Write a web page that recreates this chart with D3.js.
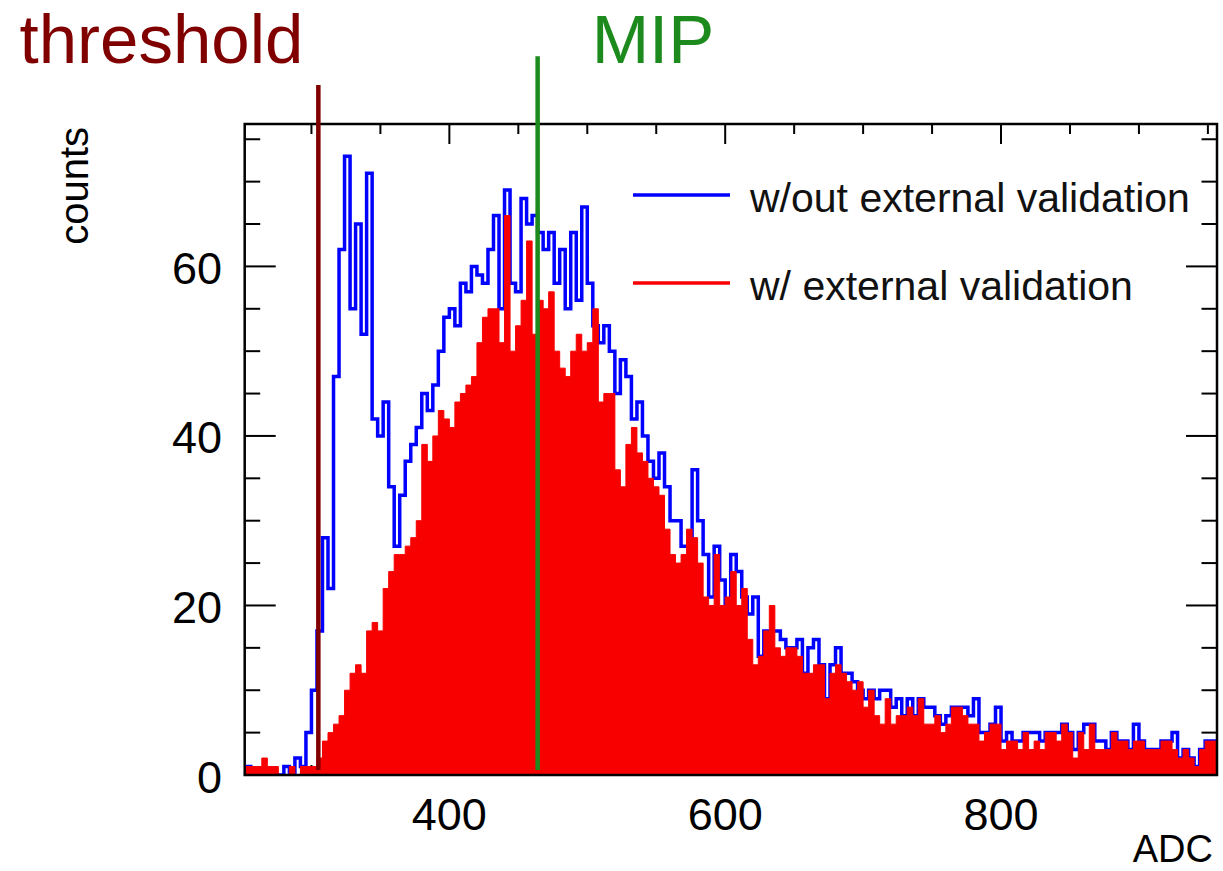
<!DOCTYPE html>
<html>
<head>
<meta charset="utf-8">
<script src="https://cdn.jsdelivr.net/npm/d3@7"></script>
<style>
  html, body { margin: 0; padding: 0; background: #fff; }
  svg { display: block; font-family: "Liberation Sans", Arial, Helvetica, sans-serif; }
</style>
</head>
<body>
<div id="chart"></div>
<script>
// histogram binning (ADC units)
const binStart = 252;
const binWidth = 4;

// counts per bin, bins 252..956
const withoutValidation = [
    1, 0, 0, 0, 0, 0, 0, 1, 0, 2, 1, 5,
    10, 17, 28, 22, 47, 62, 73, 55, 65, 52, 71, 42, 40, 44, 34, 27, 33, 37, 39, 41,
    45, 43, 46, 50, 54, 55, 53, 58, 57, 60, 59, 58, 62, 66, 55, 69, 58, 57, 68, 65,
    66, 64, 62, 64, 58, 62, 55, 64, 56, 67, 58, 53, 51, 53, 50, 45, 49, 47, 42, 44,
    40, 37, 35, 38, 34, 30, 30, 27, 27, 36, 30, 26, 21, 27, 23, 20, 26, 24, 21, 19,
    21, 14, 17, 17, 17, 16, 15, 15, 16, 12, 15, 16, 13, 9, 13, 15, 12, 12, 11, 10,
    9, 10, 9, 10, 10, 8, 9, 7, 9, 7, 9, 8, 8, 7, 6, 7, 8, 8, 8, 7,
    9, 5, 5, 6, 8, 4, 5, 4, 4, 5, 5, 5, 4, 5, 5, 5, 6, 5, 3, 5,
    6, 6, 4, 4, 3, 5, 4, 4, 3, 6, 4, 3, 3, 3, 4, 4, 5, 2, 3, 2,
    1, 3, 4, 4
];
const withValidation = [
    1, 1, 1, 2, 1, 1, 0, 0, 1, 0, 1, 1,
    1, 2, 4, 5, 6, 7, 10, 12, 13, 12, 17, 18, 17, 22, 24, 26, 26, 27, 28, 30,
    39, 37, 40, 43, 42, 41, 44, 45, 46, 47, 51, 54, 55, 55, 51, 66, 50, 53, 56, 63,
    52, 56, 55, 57, 50, 48, 47, 50, 52, 50, 51, 55, 44, 45, 45, 36, 34, 39, 41, 38,
    37, 35, 34, 33, 29, 26, 25, 26, 29, 28, 25, 21, 20, 26, 20, 21, 24, 20, 22, 16,
    13, 14, 17, 20, 15, 14, 15, 15, 14, 12, 12, 13, 13, 9, 12, 13, 12, 11, 10, 11,
    8, 10, 7, 6, 9, 6, 7, 7, 8, 7, 9, 6, 6, 7, 5, 6, 8, 8, 7, 6,
    6, 4, 5, 6, 6, 3, 4, 4, 3, 5, 3, 4, 3, 5, 5, 4, 6, 5, 2, 5,
    3, 6, 3, 3, 3, 5, 4, 4, 3, 4, 4, 3, 3, 3, 4, 4, 3, 2, 3, 2,
    1, 3, 4, 4
];

const xMajorTicks = [400, 600, 800];
const xMinorTicks = [300, 350, 450, 500, 550, 650, 700, 750, 850, 900, 950];
const yMajorTicks = [0, 20, 40, 60];
const yMinorTicks = [5, 10, 15, 25, 30, 35, 45, 50, 55, 65, 70, 75];

const markerLabels = ['threshold', 'MIP'];
const markerAdc = [305, 464];
const markerTop = [81.4, 84.8];   // in counts, above the frame
const markerColors = ['#800000', '#1c8a1c'];

const legendLabels = ['w/out external validation', 'w/ external validation'];
const blue = '#0000ff';
const red = '#f80000';

const W = 1223, H = 871;
const frame = { left: 244.7, right: 1217, top: 124, bottom: 775 };

const svg = d3.select('#chart').append('svg')
    .attr('width', W)
    .attr('height', H);

const x = d3.scaleLinear().domain([251.6, 956.6]).range([frame.left, frame.right]);
const y = d3.scaleLinear().domain([0, 76.8]).range([frame.bottom, frame.top]);

function steps(values) {
    const pts = values.map((v, i) => ({ e: binStart + i * binWidth, v: v }));
    pts.push({ e: binStart + values.length * binWidth, v: values[values.length - 1] });
    return pts;
}

svg.append('clipPath').attr('id', 'frameClip')
    .append('rect')
    .attr('x', frame.left).attr('y', frame.top)
    .attr('width', frame.right - frame.left)
    .attr('height', frame.bottom - frame.top);

// ticks (drawn first, histogram covers the bottom ones like in the original)
const ticks = svg.append('g').attr('stroke', '#000').attr('stroke-width', 2);
function xTicks(vals, len) {
    vals.forEach(v => {
        ticks.append('line').attr('x1', x(v)).attr('x2', x(v))
            .attr('y1', frame.top).attr('y2', frame.top + len);
        ticks.append('line').attr('x1', x(v)).attr('x2', x(v))
            .attr('y1', frame.bottom).attr('y2', frame.bottom - len);
    });
}
function yTicks(vals, len) {
    vals.forEach(v => {
        ticks.append('line').attr('y1', y(v)).attr('y2', y(v))
            .attr('x1', frame.left).attr('x2', frame.left + len);
        ticks.append('line').attr('y1', y(v)).attr('y2', y(v))
            .attr('x1', frame.right).attr('x2', frame.right - len);
    });
}
xTicks(xMajorTicks, 20);
xTicks(xMinorTicks, 10);
yTicks(yMajorTicks, 31);
yTicks(yMinorTicks, 15.5);

const plot = svg.append('g').attr('clip-path', 'url(#frameClip)');

const line = d3.line()
    .x(d => x(d.e))
    .y(d => y(d.v))
    .curve(d3.curveStepAfter);

const area = d3.area()
    .x(d => x(d.e))
    .y0(y(0))
    .y1(d => y(d.v))
    .curve(d3.curveStepAfter);

plot.append('path')
    .datum(steps(withoutValidation))
    .attr('fill', 'none')
    .attr('stroke', blue)
    .attr('stroke-width', 3.5)
    .attr('d', line);

plot.append('path')
    .datum(steps(withValidation))
    .attr('fill', red)
    .attr('stroke', red)
    .attr('stroke-width', 1)
    .attr('d', area);

// frame
svg.append('rect')
    .attr('x', frame.left).attr('y', frame.top)
    .attr('width', frame.right - frame.left)
    .attr('height', frame.bottom - frame.top)
    .attr('fill', 'none')
    .attr('stroke', '#000')
    .attr('stroke-width', 2.5);

// axis labels
const labelSize = 45;
svg.append('g').selectAll('text')
    .data(xMajorTicks)
    .enter().append('text')
    .attr('x', d => x(d))
    .attr('y', 830)
    .attr('text-anchor', 'middle')
    .style('font-size', labelSize + 'px')
    .text(d => d);

svg.append('g').selectAll('text')
    .data(yMajorTicks)
    .enter().append('text')
    .attr('x', 222)
    .attr('y', d => y(d) + 17.5)
    .attr('text-anchor', 'end')
    .style('font-size', labelSize + 'px')
    .text(d => d);

svg.append('text')
    .attr('x', 1213)
    .attr('y', 862)
    .attr('text-anchor', 'end')
    .style('font-size', '38px')
    .text('ADC');

svg.append('text')
    .attr('transform', `translate(88, 127) rotate(-90)`)
    .attr('text-anchor', 'end')
    .style('font-size', '40px')
    .text('counts');

// threshold / MIP markers
markerLabels.forEach((label, i) => {
    svg.append('line')
        .attr('x1', x(markerAdc[i])).attr('x2', x(markerAdc[i]))
        .attr('y1', y(markerTop[i])).attr('y2', y(0.6))
        .attr('stroke', markerColors[i])
        .attr('stroke-width', 4.5);
});

svg.append('text')
    .attr('x', x(markerAdc[0]) - 15)
    .attr('y', 63)
    .attr('text-anchor', 'end')
    .attr('fill', markerColors[0])
    .style('font-size', '69px')
    .text(markerLabels[0]);

svg.append('text')
    .attr('x', x(markerAdc[1]) + 54)
    .attr('y', 63)
    .attr('fill', markerColors[1])
    .style('font-size', '69px')
    .text(markerLabels[1]);

// legend
const legend = svg.append('g');
[blue, red].forEach((c, i) => {
    const ly = 195 + i * 88;
    legend.append('line')
        .attr('x1', 633).attr('x2', 730)
        .attr('y1', ly).attr('y2', ly)
        .attr('stroke', c)
        .attr('stroke-width', 3.5);
    legend.append('text')
        .attr('x', 750)
        .attr('y', ly + 17)
        .style('font-size', '41px')
        .attr('fill', '#111')
        .text(legendLabels[i]);
});
</script>
</body>
</html>
